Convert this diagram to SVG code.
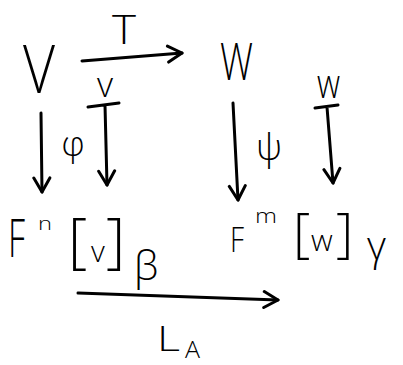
<svg xmlns="http://www.w3.org/2000/svg" width="403" height="365" viewBox="0 0 403 365">
<style>
text{font-family:"Open Sans","DejaVu Sans",sans-serif;font-weight:300;fill:#000;}
.c{fill:none;stroke:#000;stroke-width:3;stroke-linecap:round;}
</style>
<defs>
<marker id="ah" viewBox="-16 -10 18 20" markerWidth="18" markerHeight="20" refX="0" refY="0" orient="auto" markerUnits="userSpaceOnUse">
<path d="M-14,-8 L0,0 L-14,8" fill="none" stroke="#000" stroke-width="3" stroke-linecap="round" stroke-linejoin="round"/>
</marker>
</defs>
<rect width="403" height="365" fill="#fff"/>
<g id="node-V"><text x="23" y="93" font-size="66" textLength="32" lengthAdjust="spacingAndGlyphs">V</text></g>
<g id="node-W"><text x="220" y="80" font-size="52" textLength="33" lengthAdjust="spacingAndGlyphs">W</text></g>
<g id="node-v"><text x="97" y="97" font-size="34" textLength="16" lengthAdjust="spacingAndGlyphs">v</text></g>
<g id="node-w"><text x="317" y="98" font-size="40" textLength="23" lengthAdjust="spacingAndGlyphs">w</text></g>
<g id="node-Fn"><text x="8" y="257" font-size="54" textLength="17" lengthAdjust="spacingAndGlyphs">F</text><text x="38" y="230" font-size="19" textLength="14" lengthAdjust="spacingAndGlyphs">n</text></g>
<g id="node-vbeta"><text y="262"><tspan x="68" font-size="60">[</tspan><tspan x="91" font-size="30">v</tspan><tspan x="106" font-size="60">]</tspan></text><text x="134" y="280" font-size="40">β</text></g>
<g id="node-Fm"><text x="230" y="252" font-size="34" textLength="14" lengthAdjust="spacingAndGlyphs">F</text><text x="255" y="223" font-size="20" textLength="22" lengthAdjust="spacingAndGlyphs">m</text></g>
<g id="node-wgamma"><text y="251"><tspan x="293" font-size="54">[</tspan><tspan x="311" font-size="30">w</tspan><tspan x="336" font-size="54">]</tspan></text><text x="367" y="260" font-size="40">γ</text></g>
<g id="connectors">
<path class="c" d="M82,61 L182,53" marker-end="url(#ah)"/>
<path class="c" d="M41,113 L42,192" marker-end="url(#ah)"/>
<path class="c" d="M88,107 L119,103 M105,105 L107,185" marker-end="url(#ah)"/>
<path class="c" d="M233,103 L238,200" marker-end="url(#ah)"/>
<path class="c" d="M315,108 L338,105 M327,107 L333,183" marker-end="url(#ah)"/>
<path class="c" d="M78,293 L278,300" marker-end="url(#ah)"/>
</g>
<g id="labels">
<text x="112" y="44" font-size="40" textLength="24" lengthAdjust="spacingAndGlyphs">T</text>
<text x="73" y="156" font-size="34" text-anchor="middle">φ</text>
<text x="269" y="160" font-size="36" text-anchor="middle">ψ</text>
<text x="157" y="351" font-size="34" textLength="23" lengthAdjust="spacingAndGlyphs">L</text>
<text x="185" y="358" font-size="24" textLength="15" lengthAdjust="spacingAndGlyphs">A</text>
</g>
</svg>
